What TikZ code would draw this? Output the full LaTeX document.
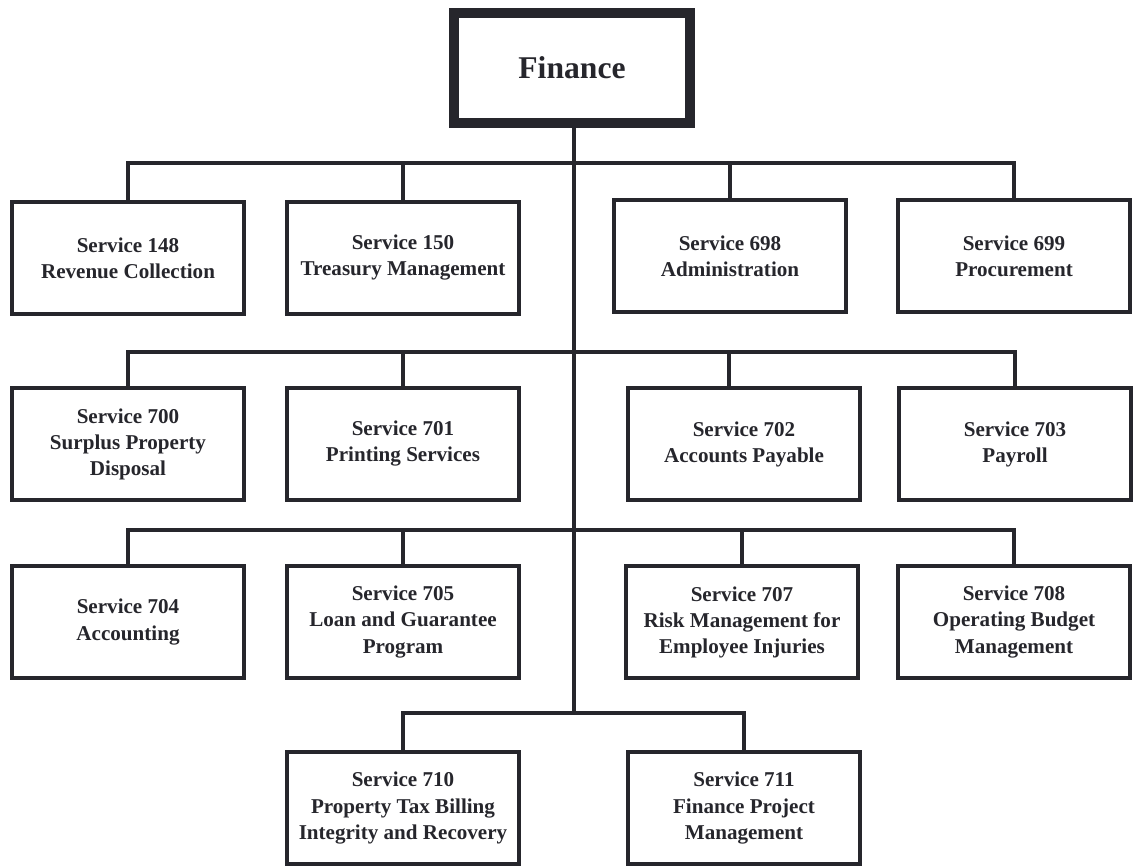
\documentclass[tikz,border=0pt]{standalone}
\usepackage{fontspec}
\setmainfont{Liberation Serif}
\definecolor{ink}{HTML}{26262C}
\begin{document}
\begin{tikzpicture}[x=0.2mm,y=-0.2mm,
    svc/.style={draw=ink,line width=2.1pt,minimum width=46.4mm,minimum height=22.4mm,
      align=center,inner sep=2pt,text=ink,font=\fontsize{12}{14.8}\selectfont\bfseries},
    head/.style={draw=ink,line width=5.6pt,minimum width=47.2mm,minimum height=22mm,
      text=ink,font=\fontsize{18}{20}\selectfont\bfseries},
    link/.style={draw=ink,line width=2.1pt}]
  \useasboundingbox (0,0) rectangle (1133,867);
  \node[head] (fin) at (572,68) {Finance};
  % first row
  \node[svc] (s148) at (128,258) {Service 148\\Revenue Collection};
  \node[svc] (s150) at (403,258) {Service 150\\Treasury Management};
  \node[svc] (s698) at (730,256) {Service 698\\Administration};
  \node[svc] (s699) at (1014,256) {Service 699\\Procurement};
  % second row
  \node[svc] (s700) at (128,444) {Service 700\\Surplus Property\\Disposal};
  \node[svc] (s701) at (403,444) {Service 701\\Printing Services};
  \node[svc] (s702) at (744,444) {Service 702\\Accounts Payable};
  \node[svc] (s703) at (1015,444) {Service 703\\Payroll};
  % third row
  \node[svc] (s704) at (128,622) {Service 704\\Accounting};
  \node[svc] (s705) at (403,622) {Service 705\\Loan and Guarantee\\Program};
  \node[svc] (s707) at (742,622) {Service 707\\Risk Management for\\Employee Injuries};
  \node[svc] (s708) at (1014,622) {Service 708\\Operating Budget\\Management};
  % last row
  \node[svc] (s710) at (403,808) {Service 710\\Property Tax Billing\\Integrity and Recovery};
  \node[svc] (s711) at (744,808) {Service 711\\Finance Project\\Management};
  \coordinate (j1) at (574,163);
  \coordinate (j2) at (574,352);
  \coordinate (j3) at (574,530);
  \coordinate (j4) at (574,713);
  \begin{scope}[link]
    \draw (fin.south -| j1) -- (j4);
    \draw (s148.north) |- (j1) -| (s699.north);
    \draw (s150.north) -- (s150.north |- j1);
    \draw (s698.north) -- (s698.north |- j1);
    \draw (s700.north) |- (j2) -| (s703.north);
    \draw (s701.north) -- (s701.north |- j2);
    \draw ([xshift=-3mm]s702.north) -- ([xshift=-3mm]s702.north |- j2);
    \draw (s704.north) |- (j3) -| (s708.north);
    \draw (s705.north) -- (s705.north |- j3);
    \draw (s707.north) -- (s707.north |- j3);
    \draw (s710.north) |- (j4) -| (s711.north);
  \end{scope}
\end{tikzpicture}
\end{document}
